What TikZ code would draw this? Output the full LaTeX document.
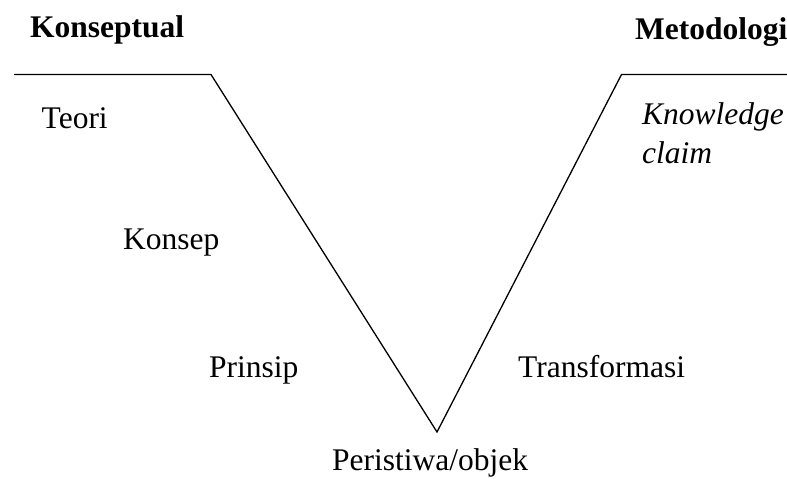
\documentclass[tikz,border=0pt]{standalone}
\usepackage{fontspec}
\setmainfont{Liberation Serif}
\usetikzlibrary{positioning}

\begin{document}
\begin{tikzpicture}[
        x=1pt, y=-1pt,
        % Define styles for the labels and the V line
        base_label/.style={inner sep=0pt, anchor=base west, font=\fontsize{31.5}{39}\selectfont},
        head_label/.style={base_label, font=\fontsize{31.5}{39}\selectfont\bfseries},
        vline/.style={line width=1.3pt, line join=miter}
    ]

    % fixed page size
    \useasboundingbox (0,0) rectangle (787,479);

    % === corners of the V ===
    \coordinate (left_end) at (14,74.5);
    \coordinate (left_top) at (211,74.5);
    \coordinate (apex) at (437,432);
    \coordinate (right_top) at (621.5,74.5);
    \coordinate (right_end) at (787,74.5);

    \draw [vline] (left_end) -- (left_top) -- (apex) -- (right_top) -- (right_end);

    % === headings ===
    \node (konseptual) [head_label] at (30,37) {Konseptual};
    \node (metodologi) [head_label] at (635,39.5) {Metodologi};

    % === left side ===
    \node (teori) [base_label] at (41.5,128) {Teori};
    \node (konsep) [base_label] at (123,249) {Konsep};
    \node (prinsip) [base_label] at (209,377) {Prinsip};

    % === right side ===
    \node (knowledge) [base_label, align=left, anchor=north west] at (642,102) {\itshape Knowledge\\\itshape claim};
    \node (transformasi) [base_label] at (518,377) {Transformasi};

    % === bottom ===
    \node (peristiwa) [base_label] at (332,470) {Peristiwa/objek};

\end{tikzpicture}
\end{document}
